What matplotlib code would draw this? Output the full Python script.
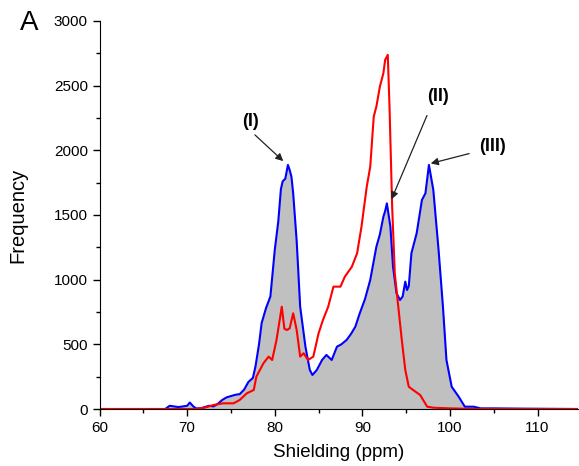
import matplotlib.pyplot as plt
from matplotlib.ticker import MultipleLocator

plt.rcParams["font.family"] = ["Liberation Sans", "DejaVu Sans"]

# blue spectrum (filled grey)
blue_x = [60, 67.5, 68, 68.5, 69, 69.5, 70, 70.3, 70.7, 71, 71.5, 72, 72.5, 73, 73.5,
          74, 74.5, 75, 75.5, 76, 76.5, 77, 77.5, 77.8, 78.2, 78.5, 79, 79.5, 80, 80.4,
          80.7, 80.9, 81.2, 81.5, 81.7, 81.9, 82.1, 82.5, 82.9, 83.5, 84.0, 84.3, 84.8,
          85.4, 85.9, 86.5, 87.1, 87.6, 88.2, 88.7, 89.2, 89.7, 90.3, 90.9, 91.6, 92.0,
          92.4, 92.6, 92.8, 93.2, 93.5, 93.9, 94.3, 94.6, 94.9, 95.1, 95.3, 95.6, 96.2,
          96.8, 97.2, 97.6, 98.1, 98.7, 99.2, 99.6, 100.2, 101.0, 101.7, 102.7, 103.5,
          105, 108, 114.6]
blue_y = [0, 0, 25, 20, 15, 20, 25, 50, 20, 5, 5, 15, 25, 20, 40,
          70, 90, 100, 110, 115, 150, 210, 240, 330, 500, 664, 780, 870, 1230, 1450,
          1700, 1760, 1780, 1887, 1848, 1797, 1669, 1300, 791, 482, 302, 263, 302,
          379, 418, 379, 482, 500, 534, 580, 637, 740, 850, 998, 1255, 1350,
          1487, 1530, 1590, 1410, 1100, 895, 843, 870, 985, 920, 950, 1205, 1359,
          1616, 1668, 1887, 1694, 1230, 791, 379, 172, 95, 18, 18, 5,
          5, 3, 0]

# red spectrum
red_x = [60, 71, 72, 73, 74.1, 75.3, 76.0, 76.8, 77.6, 77.9, 78.7, 79.3, 79.7, 80.2,
         80.8, 81.1, 81.4, 81.7, 82.1, 82.5, 82.9, 83.3, 83.8, 84.4, 85.0, 85.5, 86.1,
         86.7, 87.5, 88.0, 88.8, 89.4, 89.9, 90.5, 90.9, 91.3, 91.6, 92.0, 92.4, 92.6,
         92.9, 93.1, 93.4, 93.7, 94.1, 94.5, 94.9, 95.3, 95.8, 96.6, 97.4, 98.1, 100,
         103, 114.6]
red_y = [0, 0, 10, 31, 44, 44, 70, 121, 147, 250, 353, 405, 379, 534,
         791, 620, 611, 624, 740, 611, 405, 431, 379, 405, 585, 688, 791,
         946, 946, 1023, 1100, 1204, 1410, 1719, 1874, 2261, 2338, 2493, 2596, 2699,
         2738, 2338, 1565, 1050, 791, 534, 302, 172, 147, 108, 18, 10, 5,
         0, 0]

labels = ["(I)", "(II)", "(III)"]
label_xy = [(77.2, 2220), (98.6, 2413), (104.8, 2026)]
arrow_start = [(77.5, 2134), (97.5, 2289), (102.5, 1980)]
arrow_end = [(81.2, 1902), (93.2, 1601), (97.5, 1893)]

fig = plt.figure(figsize=(5.79, 4.66), dpi=100)
ax = fig.add_axes([0.172, 0.1223, 0.826, 0.8327])

ax.fill_between(blue_x, blue_y, 0, color="#c0c0c0", lw=0)
ax.plot(blue_x, blue_y, color="#0000ff", lw=1.5)
ax.plot(red_x, red_y, color="#ff0000", lw=1.5)

for lab, (tx, ty), (sx, sy), (ex, ey) in zip(labels, label_xy, arrow_start, arrow_end):
    ax.text(tx, ty, lab, fontsize=13, fontweight="bold", ha="center", va="center")
    ax.annotate("", xy=(ex, ey), xytext=(sx, sy),
                arrowprops=dict(arrowstyle="-|>", color="#222222", lw=0.9, mutation_scale=11))

ax.set_xlim(60, 114.6)
ax.set_ylim(0, 3000)
ax.xaxis.set_major_locator(MultipleLocator(10))
ax.xaxis.set_minor_locator(MultipleLocator(5))
ax.yaxis.set_major_locator(MultipleLocator(500))
ax.yaxis.set_minor_locator(MultipleLocator(250))
ax.tick_params(direction="out", labelsize=11, length=5, width=1)
ax.tick_params(which="minor", direction="out", length=3, width=1)
ax.spines["top"].set_visible(False)
ax.spines["right"].set_visible(False)
ax.set_xlabel("Shielding (ppm)", fontsize=13.5)
ax.set_ylabel("Frequency", fontsize=14.5)
ax.yaxis.set_label_coords(-0.17, 0.5)
ax.xaxis.set_label_coords(0.5, -0.111)
ax.xaxis.label.set_va("center")
ax.yaxis.label.set_va("center")

fig.text(0.05, 0.95, "A", fontsize=20, va="center", ha="center")

plt.savefig("out.png", dpi=100)
